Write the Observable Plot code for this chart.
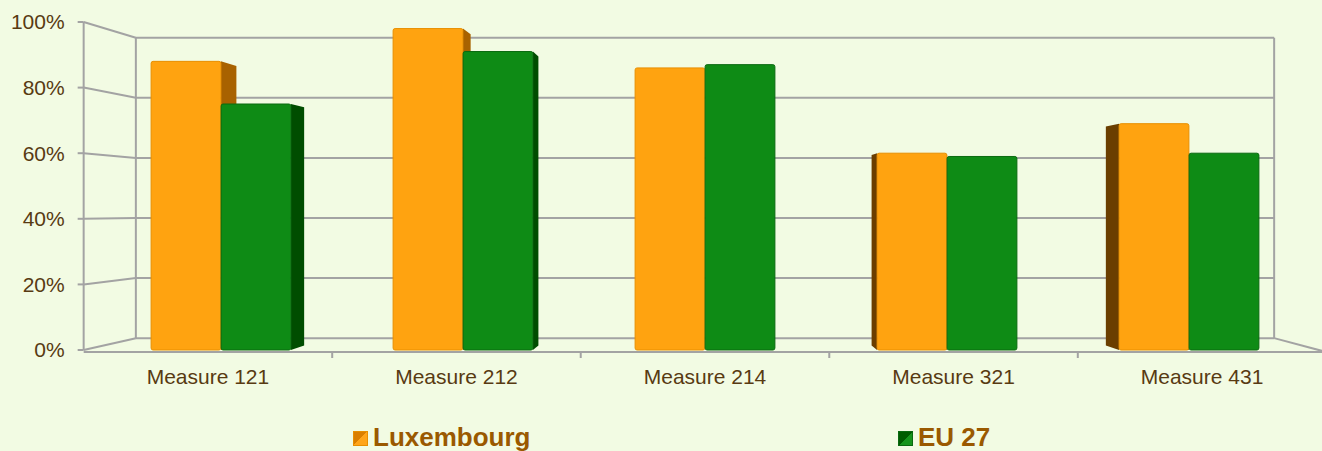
<!DOCTYPE html>
<html><head><meta charset="utf-8">
<script src="https://cdn.jsdelivr.net/npm/d3@7"></script>
<script src="https://cdn.jsdelivr.net/npm/@observablehq/plot@0.6"></script>
<style>
html,body{margin:0;padding:0;background:#F2FBE3;}
#wrap{position:relative;width:1322px;height:451px;overflow:hidden;font-family:"Liberation Sans",Arial,sans-serif;background:#F2FBE3;}
#chart{position:absolute;left:0;top:0;}
.item{position:absolute;top:424px;display:flex;align-items:center;font-weight:bold;font-size:26px;line-height:26px;color:#9A5900;white-space:nowrap;}
.sw{width:13px;height:13px;margin-right:5px;margin-top:3px;}
</style></head>
<body><div id="wrap"><div id="chart"></div><div id="legend"></div></div>
<script>
// ---- data ----
const measures = ["Measure 121", "Measure 212", "Measure 214", "Measure 321", "Measure 431"];
const luxembourg = [88, 98, 86, 60, 69];
const eu27 = [75, 91, 87, 59, 60];
const seriesNames = ["Luxembourg", "EU 27"];
const yTicks = [0, 20, 40, 60, 80, 100];
const yTickLabels = ["0%", "20%", "40%", "60%", "80%", "100%"];

// ---- styles / layout ----
const W = 1322, H = 395;
const mL = 99, mR = 12, mT = 22, mB = 45;
const BAR_W = 70;
const bw = (W - mL - mR) / measures.length;
const insets = {
  Luxembourg: {l: bw / 2 - BAR_W, r: bw / 2},
  "EU 27": {l: bw / 2, r: bw / 2 - BAR_W}
};
const colors = {
  Luxembourg: {face: "#FFA310", edge: "#E88F00", right: "#A86200", left: "#6A3E00"},
  "EU 27": {face: "#0E8B15", edge: "#0A6A10", right: "#004D00", left: "#004A00"}
};
const grid = "#A3A3A3", textCol = "#583A12";
const FRONT = 1.027, BACK = 0.916, DEPTH = 0.968;

const rows = [];
measures.forEach((m, i) => {
  rows.push({measure: m, series: "Luxembourg", value: luxembourg[i]});
  rows.push({measure: m, series: "EU 27", value: eu27[i]});
});

function geom(scales) {
  const x = scales.x, y = scales.y;
  const b = x.bandwidth ? x.bandwidth() : bw;
  const centers = measures.map(m => x(m) + b / 2);
  const vx = (centers[0] + centers[centers.length - 1]) / 2;
  const y0 = y(0), y1 = y(100);
  const vy = y0 - (y0 - y1) * 0.43;
  return {x, y, b, centers, vx, vy, y0, y1};
}

function wall(index, scales, values, dim) {
  const {x, y, centers, vx, vy, y0, y1} = geom(scales);
  const labelX = centers.map(c => vx + (c - vx) * FRONT);
  const step = labelX[1] - labelX[0];
  const fl = labelX[0] - step / 2, fr = labelX[labelX.length - 1] + step / 2;
  const bx = px => vx + (px - vx) * BACK;
  const by = py => vy + (py - vy) * BACK;
  const g = d3.create("svg:g");
  const line = (x1, y1_, x2, y2) => g.append("line")
    .attr("x1", x1).attr("y1", y1_).attr("x2", x2).attr("y2", y2)
    .attr("stroke", grid).attr("stroke-width", 2);
  yTicks.forEach(v => {
    const yy = y(v);
    line(bx(fl), by(yy), bx(fr), by(yy));
    line(fl, yy, bx(fl), by(yy));
    line(fl - 6, yy, fl, yy);
  });
  line(bx(fl), by(y0), bx(fl), by(y1));
  line(bx(fr), by(y0), bx(fr), by(y1));
  line(fl, y0, fl, y1);
  line(fl, y0 + 2, W + 10, y0 + 2);
  line(bx(fr), by(y0), fr, y0 + 2);
  for (let i = 1; i < measures.length; i++) line(fl + step * i, y0 + 2, fl + step * i, y0 + 8);
  // axis labels
  yTicks.forEach((v, i) => g.append("text")
    .attr("x", fl - 19).attr("y", y(v)).attr("dy", "0.35em")
    .attr("text-anchor", "end").attr("fill", textCol)
    .attr("font-size", 21).text(yTickLabels[i]));
  measures.forEach((m, i) => g.append("text")
    .attr("x", labelX[i]).attr("y", y0 + 27).attr("dy", "0.35em")
    .attr("text-anchor", "middle").attr("fill", textCol)
    .attr("font-size", 21).text(m));
  return g.node();
}

function sides(index, scales) {
  const {x, y, b, vx, vy, y0} = geom(scales);
  const g = d3.create("svg:g");
  rows.forEach(r => {
    const l = x(r.measure) + insets[r.series].l;
    const rt = x(r.measure) + b - insets[r.series].r;
    const top = y(r.value);
    const ox = px => vx + (px - vx) * DEPTH;
    const oy = py => vy + (py - vy) * DEPTH;
    let pts, col;
    if (rt < vx - 2) { pts = [[rt, top], [ox(rt), oy(top)], [ox(rt), oy(y0)], [rt, y0]]; col = colors[r.series].right; }
    else if (l > vx + 2) { pts = [[l, top], [ox(l), oy(top)], [ox(l), oy(y0)], [l, y0]]; col = colors[r.series].left; }
    else return;
    g.append("polygon").attr("points", pts.map(p => p.join(",")).join(" ")).attr("fill", col);
  });
  return g.node();
}

const plot = Plot.plot({
  width: W, height: H,
  marginLeft: mL, marginRight: mR, marginTop: mT, marginBottom: mB,
  style: {background: "transparent", fontFamily: "'Liberation Sans', Arial, sans-serif", overflow: "visible"},
  x: {domain: measures, paddingInner: 0, paddingOuter: 0, axis: null, label: null},
  y: {domain: [0, 100], axis: null, label: null},
  marks: [
    wall,
    sides,
    ...seriesNames.map(s => Plot.barY(rows.filter(r => r.series === s), {
      x: "measure", y: "value",
      fill: colors[s].face, stroke: colors[s].edge, strokeWidth: 1,
      insetLeft: insets[s].l, insetRight: insets[s].r, rx: 2
    }))
  ]
});
document.getElementById("chart").appendChild(plot);

// legend
const legend = document.getElementById("legend");
const legendLeft = {Luxembourg: 353, "EU 27": 898};
const swatch = {
  Luxembourg: "linear-gradient(to bottom right, #DA7F00 50%, #FFA51A 50%)",
  "EU 27": "linear-gradient(to bottom right, #005C00 50%, #16951C 50%)"
};
seriesNames.forEach(s => {
  const it = document.createElement("div");
  it.className = "item";
  it.style.left = legendLeft[s] + "px";
  const sw = document.createElement("span");
  sw.className = "sw";
  sw.style.background = swatch[s];
  sw.style.border = "1px solid " + colors[s].edge;
  it.appendChild(sw);
  it.appendChild(document.createTextNode(s));
  legend.appendChild(it);
});
</script>
</body></html>
